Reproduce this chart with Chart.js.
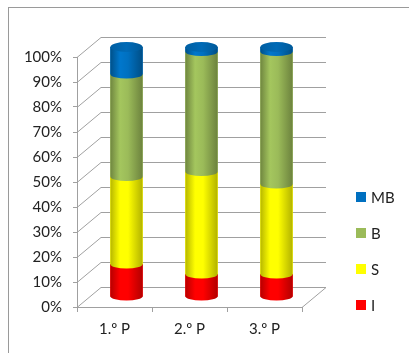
<!DOCTYPE html>
<html>
<head>
<meta charset="utf-8">
<script src="https://cdn.jsdelivr.net/npm/chart.js@4.4.1/dist/chart.umd.min.js"></script>
<style>
  html, body { margin: 0; padding: 0; background: #fff; }
  #frame { position: absolute; left: 8px; top: 7px; right: -2px; bottom: -2px;
           border-top: 1px solid #9a9a9a; border-left: 1px solid #9a9a9a; }
  #wrap { position: absolute; left: 0; top: 0; width: 409px; height: 353px; }
</style>
</head>
<body>
<div id="frame"></div>
<div id="wrap"><canvas id="myChart"></canvas></div>
<script>
// data (percent of each period)
const categories = ["1.º P", "2.º P", "3.º P"];
const seriesNames = ["I", "S", "B", "MB"];
const valuesI  = [13, 9, 9];
const valuesS  = [35, 41, 36];
const valuesB  = [41, 48, 53];
const valuesMB = [11, 2, 2];
const yTicks = [0, 10, 20, 30, 40, 50, 60, 70, 80, 90, 100];

const seriesColors = [[255, 0, 0], [255, 255, 0], [155, 187, 89], [0, 112, 192]];
const seriesValues = [valuesI, valuesS, valuesB, valuesMB];

const DX = 24, DY = -20;   // depth of the 3d box
const RY = 4;              // ellipse height of the cylinders
const GRID = "#a0a0a0";

function shade(c, f) {
  return "rgb(" + c.map(v => Math.max(0, Math.min(255, Math.round(v * f)))).join(",") + ")";
}

Chart.defaults.font.family = "Lato";
Chart.defaults.font.size = 15;
Chart.defaults.color = "#222";

// back wall, left wall and floor lines
const wallPlugin = {
  id: "walls",
  beforeDatasetsDraw(chart) {
    const ctx = chart.ctx, area = chart.chartArea, y = chart.scales.y;
    ctx.save();
    ctx.strokeStyle = GRID;
    ctx.lineWidth = 1;
    yTicks.forEach(v => {
      const py = Math.round(y.getPixelForValue(v)) + 0.5;
      ctx.beginPath();
      ctx.moveTo(area.left, py);
      ctx.lineTo(area.left + DX, py + DY);
      ctx.lineTo(area.right + DX, py + DY);
      ctx.stroke();
    });
    const p0 = Math.round(y.getPixelForValue(0)) + 0.5;
    ctx.beginPath();
    ctx.moveTo(area.right, p0);
    ctx.lineTo(area.right + DX, p0 + DY);
    ctx.stroke();
    ctx.restore();
    // bars stand in the middle of the depth
    ctx.save();
    ctx.translate(DX / 2, DY / 2);
  },
  afterDatasetsDraw(chart) {
    const ctx = chart.ctx;
    const metas = chart.data.datasets.map((d, i) => chart.getDatasetMeta(i));
    categories.forEach((c, j) => {
      let lastTop = null;
      metas.forEach((meta, i) => {
        const el = meta.data[j];
        const p = el.getProps(["x", "y", "base", "width"], true);
        if (Math.abs(p.base - p.y) < 0.5) return;
        const col = seriesColors[i];
        const l = p.x - p.width / 2, r = p.x + p.width / 2, rx = p.width / 2;
        const g = ctx.createLinearGradient(l, 0, r, 0);
        g.addColorStop(0, shade(col, 0.72));
        g.addColorStop(0.3, shade(col, 1.06));
        g.addColorStop(0.55, shade(col, 1.0));
        g.addColorStop(1, shade(col, 0.7));
        ctx.fillStyle = g;
        ctx.beginPath();
        ctx.moveTo(l, p.y);
        ctx.lineTo(l, p.base);
        ctx.ellipse(p.x, p.base, rx, RY, 0, Math.PI, 0, true);
        ctx.lineTo(r, p.y);
        ctx.closePath();
        ctx.fill();
        lastTop = { x: p.x, y: p.y, rx: rx, col: col };
      });
      if (lastTop) {
        const g = ctx.createLinearGradient(lastTop.x - lastTop.rx, 0, lastTop.x + lastTop.rx, 0);
        g.addColorStop(0, shade(lastTop.col, 0.85));
        g.addColorStop(0.5, shade(lastTop.col, 0.95));
        g.addColorStop(1, shade(lastTop.col, 0.8));
        ctx.fillStyle = g;
        ctx.beginPath();
        ctx.ellipse(lastTop.x, lastTop.y, lastTop.rx, RY + 1, 0, 0, Math.PI * 2);
        ctx.fill();
      }
    });
    ctx.restore();
  }
};

// legend on the right, top series first
const legendPlugin = {
  id: "sideLegend",
  afterDraw(chart) {
    const ctx = chart.ctx;
    const sets = chart.data.datasets;
    ctx.save();
    ctx.font = "15px Lato";
    ctx.textBaseline = "middle";
    for (let k = 0; k < sets.length; k++) {
      const ds = sets[sets.length - 1 - k];
      const yc = 197 + k * 36;
      ctx.fillStyle = ds.backgroundColor;
      ctx.fillRect(356, yc - 5, 10, 10);
      ctx.fillStyle = "#222";
      ctx.fillText(ds.label, 371, yc + 1);
    }
    ctx.restore();
  }
};

new Chart(document.getElementById("myChart").getContext("2d"), {
  type: "bar",
  data: {
    labels: categories,
    datasets: seriesNames.map((name, i) => ({
      label: name,
      data: seriesValues[i],
      backgroundColor: shade(seriesColors[i], 1),
      borderWidth: 0,
      barThickness: 32,
      clip: false
    }))
  },
  options: {
    responsive: true,
    maintainAspectRatio: false,
    animation: false,
    events: [],
    layout: { padding: { top: 57, right: 107, bottom: 0, left: 0 } },
    plugins: { legend: { display: false }, tooltip: { enabled: false } },
    scales: {
      x: {
        stacked: true,
        grid: { drawOnChartArea: false, tickLength: 5, color: GRID },
        border: { color: GRID },
        ticks: { padding: 8 },
        afterFit(scale) { scale.height = 46; }
      },
      y: {
        stacked: true,
        min: 0,
        max: 100,
        grid: { drawOnChartArea: false, tickLength: 4, color: GRID },
        border: { color: GRID },
        ticks: { stepSize: 10, padding: 11, callback: v => v + "%" },
        afterFit(scale) { scale.width = 77; }
      }
    }
  },
  plugins: [wallPlugin, legendPlugin]
});
</script>
</body>
</html>
